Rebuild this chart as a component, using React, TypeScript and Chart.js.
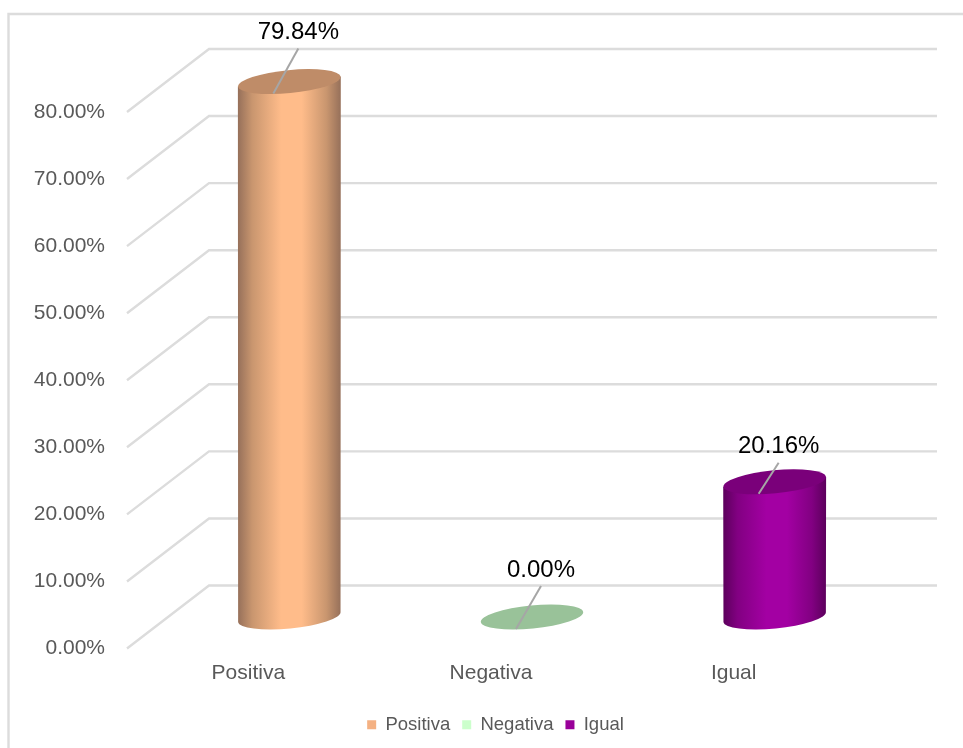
import React, { useEffect, useRef } from "react";
import { Chart, registerables } from "chart.js";

Chart.register(...registerables);

const categories = ["Positiva", "Negativa", "Igual"];
const values = [79.84, 0, 20.16];
const legendColors = ["#F4B183", "#CCFFCC", "#990099"];
const bodyLight = ["#FFBC8A", "#CCFFCC", "#A300A3"];
const bodyMid = ["#C9966F", "#A3CCA3", "#820082"];
const bodyDark = ["#96705A", "#7A997A", "#5C005C"];
const capColors = ["#BF8C68", "#99C299", "#7A007A"];
const yTicks = [0, 10, 20, 30, 40, 50, 60, 70, 80];
const leaderRise = [45, 43, 31];
const leaderRun = [25, 25, 20];

const GRID = "#DCDCDC";
const FONT = '"Liberation Sans", Arial, sans-serif';
const DEPTH_X = 82;
const DEPTH_Y = 63;
const TILT = (-5.5 * Math.PI) / 180;
const CAP_RY = 11.5;

// Draws the frame, the receding floor-to-wall grid and the cylinders.
const cylinderPlugin = {
  id: "cylinders",
  afterLayout(chart: any) {
    const legend = chart.legend;
    if (legend) {
      legend.left += 68;
      legend.right += 68;
    }
  },
  beforeDatasetsDraw(chart: any) {
    const { ctx, chartArea, scales } = chart;
    const y = scales.y;
    ctx.save();
    ctx.strokeStyle = GRID;
    ctx.lineWidth = 2.4;
    ctx.beginPath();
    ctx.moveTo(8.5, 748);
    ctx.lineTo(8.5, 14);
    ctx.lineTo(963, 14);
    ctx.stroke();
    yTicks.forEach((t) => {
      const py = y.getPixelForValue(t);
      ctx.beginPath();
      ctx.moveTo(chartArea.left, py);
      ctx.lineTo(chartArea.left + DEPTH_X, py - DEPTH_Y);
      ctx.lineTo(chartArea.right + DEPTH_X, py - DEPTH_Y);
      ctx.stroke();
    });

    const meta = chart.getDatasetMeta(0);
    meta.data.forEach((bar: any, i: number) => {
      const cx = bar.x + DEPTH_X / 2;
      const top = bar.y - DEPTH_Y / 2;
      const bottom = y.getPixelForValue(0) - DEPTH_Y / 2;
      const rx = bar.width / 2;
      const left = cx - rx;
      const right = cx + rx;
      if (values[i] > 0) {
        const g = ctx.createLinearGradient(left, 0, right, 0);
        g.addColorStop(0, bodyDark[i]);
        g.addColorStop(0.14, bodyMid[i]);
        g.addColorStop(0.42, bodyLight[i]);
        g.addColorStop(0.62, bodyLight[i]);
        g.addColorStop(0.86, bodyMid[i]);
        g.addColorStop(1, bodyDark[i]);
        ctx.fillStyle = g;
        ctx.beginPath();
        ctx.ellipse(cx, bottom, rx, CAP_RY, TILT, 0, Math.PI);
        ctx.lineTo(left, top + 5);
        ctx.lineTo(right, top - 5);
        ctx.closePath();
        ctx.fill();
      }
      ctx.fillStyle = capColors[i];
      ctx.beginPath();
      ctx.ellipse(cx, top, rx, CAP_RY, TILT, 0, Math.PI * 2);
      ctx.fill();
    });
    ctx.restore();
    return false;
  },
  // Leader lines and value labels sit on top of everything else.
  afterDraw(chart: any) {
    const { ctx } = chart;
    const meta = chart.getDatasetMeta(0);
    ctx.save();
    meta.data.forEach((bar: any, i: number) => {
      const cx = bar.x + DEPTH_X / 2;
      const top = bar.y - DEPTH_Y / 2;
      const sx = cx - 16;
      const sy = top + 12;
      const ex = sx + leaderRun[i];
      const ey = sy - leaderRise[i];
      ctx.strokeStyle = "#A6A6A6";
      ctx.lineWidth = 2;
      ctx.beginPath();
      ctx.moveTo(sx, sy);
      ctx.lineTo(ex, ey);
      ctx.stroke();
      ctx.fillStyle = "#000000";
      ctx.font = `24px ${FONT}`;
      ctx.textAlign = "center";
      ctx.textBaseline = "middle";
      ctx.fillText(`${values[i].toFixed(2)}%`, ex, ey - 16);
    });
    ctx.restore();
  },
};

export default function App() {
  const ref = useRef<HTMLCanvasElement>(null);

  useEffect(() => {
    const canvas = ref.current;
    if (!canvas) return;
    const chart = new Chart(canvas, {
      type: "bar",
      data: {
        labels: categories,
        datasets: [
          {
            data: values,
            backgroundColor: legendColors,
            borderWidth: 0,
            barPercentage: 0.424,
            categoryPercentage: 1,
          },
        ],
      },
      plugins: [cylinderPlugin],
      options: {
        animation: false,
        responsive: false,
        layout: { padding: { left: 0, right: 108, top: 112, bottom: 4 } },
        scales: {
          x: {
            grid: { display: false },
            border: { display: false },
            ticks: {
              color: "#595959",
              font: { family: FONT, size: 21 },
              padding: 4,
            },
            afterFit(scale: any) {
              scale.height = 55;
            },
          },
          y: {
            min: 0,
            max: 80,
            grid: { display: false },
            border: { display: false },
            afterFit(scale: any) {
              scale.width = 127;
            },
            afterBuildTicks(scale: any) {
              scale.ticks = yTicks.map((value) => ({ value }));
            },
            ticks: {
              color: "#595959",
              padding: 14,
              font: { family: FONT, size: 21 },
              callback: (v: any) => `${Number(v).toFixed(2)}%`,
            },
          },
        },
        plugins: {
          tooltip: { enabled: false },
          legend: {
            position: "bottom",
            labels: {
              boxWidth: 9,
              boxHeight: 9,
              padding: 12,
              color: "#595959",
              font: { family: FONT, size: 18.5 },
              generateLabels: () =>
                categories.map((text, i) => ({
                  text,
                  fillStyle: legendColors[i],
                  strokeStyle: legendColors[i],
                  lineWidth: 0,
                  fontColor: "#595959",
                  index: i,
                })),
            },
          },
        },
      },
    } as any);
    return () => chart.destroy();
  }, []);

  return (
    <div style={{ position: "absolute", left: 0, top: 0, width: 963, height: 748 }}>
      <canvas ref={ref} width={963} height={748} style={{ display: "block" }} />
    </div>
  );
}
